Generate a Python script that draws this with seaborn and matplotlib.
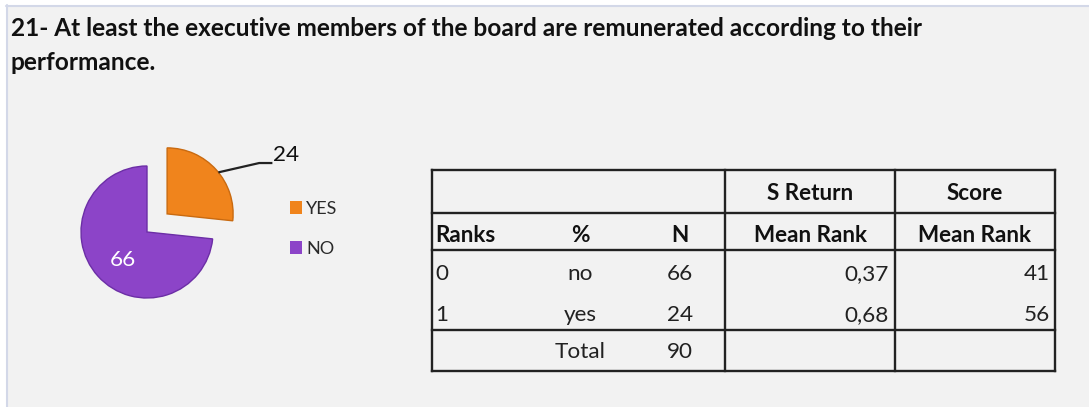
import matplotlib
matplotlib.use("Agg")
import matplotlib.pyplot as plt
import seaborn as sns
from matplotlib.patches import Rectangle
import numpy as np

sns.set_theme(style="white")
plt.rcParams['font.family'] = ['Lato', 'DejaVu Sans']

# ---- data ----
title_lines = ["21- At least the executive members of the board are remunerated according to their",
               "performance."]
pie_labels = ["YES", "NO"]
pie_values = [24, 66]
pie_colors = ["#f0841c", "#8c44c8"]
pie_edges = ["#c96a10", "#6c2ea6"]

hdr_top = ["", "S Return", "Score"]
hdr_sub = ["Ranks", "%", "N", "Mean Rank", "Mean Rank"]
rank_codes = ["0", "1"]
rank_names = ["no", "yes"]
rank_n = [66, 24]
sreturn_mean = ["0,37", "0,68"]
score_mean = ["41", "56"]
total_label = "Total"
total_n = 90

W, H = 1089, 407
fig = plt.figure(figsize=(W / 100, H / 100), dpi=100, facecolor="white")

# full-figure pixel axes
bg = fig.add_axes([0, 0, 1, 1])
bg.set_xlim(0, W)
bg.set_ylim(H, 0)
bg.axis("off")
bg.add_patch(Rectangle((6, 5), W, H, facecolor="#f2f2f2", edgecolor="none"))
bg.plot([6.5, 6.5], [5, H], color="#d3d8e8", lw=1.5)
bg.plot([6, W], [5.5, 5.5], color="#d3d8e8", lw=1.5)

# title
for i, line in enumerate(title_lines):
    bg.text(11, 28 + i * 35, line, fontsize=17.6, fontweight="bold", color="#111111",
            va="center", ha="left")

# ---- pie ----
cx, cy, r = 147, 232, 66
pax = fig.add_axes([(cx - r) / W, (H - cy - r) / H, 2 * r / W, 2 * r / H])
explode = [0.41, 0.0]
wedges, _ = pax.pie(pie_values, colors=pie_colors, startangle=90, counterclock=False,
                    explode=explode, radius=1.0,
                    wedgeprops=dict(linewidth=1.0))
for w, ec in zip(wedges, pie_edges):
    w.set_edgecolor(ec)
    w.set_clip_on(False)
pax.set_xlim(-1, 1)
pax.set_ylim(-1, 1)
pax.set_aspect("auto")
pax.axis("off")

# YES label with leader line
w = wedges[0]
mid = np.deg2rad((w.theta1 + w.theta2) / 2)
off = explode[0]
ex, ey = off * np.cos(mid), off * np.sin(mid)
ang = mid - np.deg2rad(3)
px, py = ex + np.cos(ang), ey + np.sin(ang)
knee = (1.70, 1.045)
end = (1.90, 1.045)
pax.plot([px, knee[0], end[0]], [py, knee[1], end[1]], color="#222222", lw=1.6,
         clip_on=False, solid_capstyle="butt")
pax.text(end[0] + 0.01, end[1] - 0.03, str(pie_values[0]), fontsize=16.2, color="#111111",
         va="bottom", ha="left")
# NO label inside
w = wedges[1]
mid = np.deg2rad((w.theta1 + w.theta2) / 2 + 7)
pax.text(0.56 * np.cos(mid), 0.56 * np.sin(mid), str(pie_values[1]), color="white",
         fontsize=16.2, ha="center", va="center")

# legend
handles = [Rectangle((0, 0), 1, 1, facecolor=c, edgecolor="none") for c in pie_colors]
fig.legend(handles, pie_labels, loc="center left", bbox_to_anchor=(290 / W, 1 - 229 / H),
           frameon=False, fontsize=13, handlelength=0.68, handleheight=0.68,
           handletextpad=0.2, labelspacing=1.33, borderaxespad=0, borderpad=0,
           labelcolor="#2a2a2a")

# ---- table ----
x0, xa, xb, x1 = 432, 725, 895, 1055
ys = [170, 213, 250, 330, 371]
lc = "#222222"
for y in ys:
    bg.plot([x0, x1], [y, y], color=lc, lw=1.7, solid_capstyle="projecting")
for x in [x0, xa, xb, x1]:
    bg.plot([x, x], [ys[0], ys[-1]], color=lc, lw=1.7, solid_capstyle="projecting")

fs = 16.2
col_c = [None, 580, 680, 810, 975]
tc = "#111111"
bg.text(810, 193, hdr_top[1], fontsize=fs, fontweight="bold", ha="center", va="center", color=tc)
bg.text(975, 193, hdr_top[2], fontsize=fs, fontweight="bold", ha="center", va="center", color=tc)
bg.text(435, 236, hdr_sub[0], fontsize=fs, fontweight="bold", ha="left", va="center", color=tc)
for j in range(1, 5):
    bg.text(col_c[j], 236, hdr_sub[j], fontsize=fs, fontweight="bold", ha="center", va="center",
            color=tc)
row_y = [274, 315]
dc = "#222222"
for i in range(len(rank_codes)):
    y = row_y[i]
    bg.text(435, y, rank_codes[i], fontsize=fs, ha="left", va="center", color=dc)
    bg.text(580, y, rank_names[i], fontsize=fs, ha="center", va="center", color=dc)
    bg.text(680, y, str(rank_n[i]), fontsize=fs, ha="center", va="center", color=dc)
    bg.text(889, y, sreturn_mean[i], fontsize=fs, ha="right", va="center", color=dc)
    bg.text(1050, y, score_mean[i], fontsize=fs, ha="right", va="center", color=dc)
bg.text(580, 352, total_label, fontsize=fs, ha="center", va="center", color=dc)
bg.text(680, 352, str(total_n), fontsize=fs, ha="center", va="center", color=dc)

fig.savefig("out.png", dpi=100, facecolor="white")
